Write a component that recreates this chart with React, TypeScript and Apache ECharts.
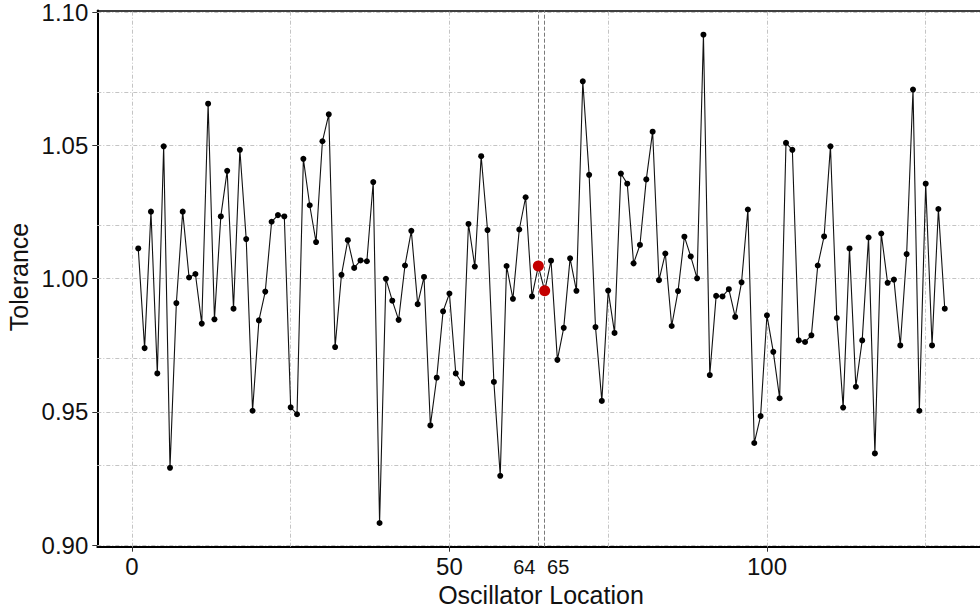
import React, { useEffect, useRef } from "react";
import * as echarts from "echarts";

// Tolerance per oscillator location (locations 1..128)
const tolerance = [
  1.0113, 0.9739, 1.0251, 0.9644, 1.0496, 0.929, 0.9908, 1.0251, 1.0004, 1.0017,
  0.9831, 1.0656, 0.9847, 1.0233, 1.0404, 0.9887, 1.0483, 1.0148, 0.9504, 0.9843,
  0.9951, 1.0213, 1.0238, 1.0233, 0.9517, 0.9491, 1.0449, 1.0275, 1.0137, 1.0515,
  1.0616, 0.9743, 1.0014, 1.0144, 1.004, 1.0068, 1.0065, 1.0362, 0.9083, 0.9999,
  0.9917, 0.9845, 1.0049, 1.0179, 0.9904, 1.0006, 0.9449, 0.9628, 0.9877, 0.9944,
  0.9644, 0.9607, 1.0205, 1.0045, 1.0459, 1.0182, 0.9612, 0.926, 1.0047, 0.9924,
  1.0184, 1.0305, 0.9933, 1.0047, 0.9954, 1.0067, 0.9695, 0.9815, 1.0076, 0.9954,
  1.074, 1.0389, 0.9818, 0.9541, 0.9955, 0.9796, 1.0394, 1.0356, 1.0057, 1.0126,
  1.0372, 1.0551, 0.9994, 1.0094, 0.9822, 0.9953, 1.0157, 1.0083, 1.0001, 1.0915,
  0.9638, 0.9935, 0.9933, 0.996, 0.9856, 0.9986, 1.0259, 0.9383, 0.9484, 0.9862,
  0.9725, 0.9551, 1.0509, 1.0483, 0.9768, 0.9762, 0.9787, 1.0049, 1.0158, 1.0496,
  0.9852, 0.9516, 1.0113, 0.9594, 0.9768, 1.0154, 0.9344, 1.0169, 0.9984, 0.9996,
  0.9749, 1.0092, 1.0709, 0.9504, 1.0356, 0.9749, 1.0261, 0.9887,
];
const locations = tolerance.map((_, i) => i + 1);
const highlightLocations = [64, 65];

const xTickValues = [0, 50, 100];
const xLabelValues = [0, 50, 64, 65, 100];
const xGridValues = [0, 25, 50, 75, 100, 125];
const yTickValues = [0.9, 0.95, 1.0, 1.05, 1.1];
const yGridValues = [0.9, 0.925, 0.95, 0.975, 1.0, 1.025, 1.05, 1.075, 1.1];

const xTitle = "Oscillator Location";
const yTitle = "Tolerance";

const FONT = '"Liberation Sans", Helvetica, Arial, sans-serif';

export default function App() {
  const ref = useRef<HTMLDivElement>(null);

  useEffect(() => {
    if (!ref.current) return;
    const chart = echarts.init(ref.current, undefined, { renderer: "svg" });

    const lineData = locations.map((x, i) => [x, tolerance[i]]);
    const redData = highlightLocations.map((x) => [x, tolerance[x - 1]]);

    const gridStyle = { color: "#c4c4c4", width: 1, type: [4, 2, 1, 2] as any };
    const hlStyle = { color: "#7a7a7a", width: 1, type: [4, 2] as any };

    const option: any = {
      animation: false,
      grid: { left: 97.3, right: 0, top: 7.3, bottom: 64.3, containLabel: false },
      xAxis: [
        {
          type: "value",
          min: -5.45,
          max: 133.55,
          splitLine: { show: false },
          axisLine: { show: true, onZero: false, lineStyle: { color: "#000", width: 2 } },
          axisTick: {
            show: true,
            customValues: xTickValues,
            length: 5,
            lineStyle: { color: "#333", width: 1 },
          },
          axisLabel: {
            customValues: xLabelValues,
            margin: 8,
            color: "#111",
            fontFamily: FONT,
            fontSize: 24,
            formatter: (v: number) =>
              v === 64 ? "{l|64}" : v === 65 ? "{r|65}" : "{n|" + v + "}",
            rich: {
              n: { fontSize: 24, fontFamily: FONT, color: "#111" },
              l: { fontSize: 20, fontFamily: FONT, color: "#111", padding: [2, 28, 0, 0] },
              r: { fontSize: 20, fontFamily: FONT, color: "#111", padding: [2, 0, 0, 27] },
            },
          },
        },
        {
          type: "value",
          position: "top",
          min: -5.45,
          max: 133.55,
          splitLine: { show: false },
          axisLine: { show: true, onZero: false, lineStyle: { color: "#000", width: 1.5 } },
          axisTick: { show: false },
          axisLabel: { show: false },
        },
      ],
      yAxis: {
        type: "value",
        min: 0.8994,
        max: 1.1006,
        splitLine: { show: false },
        axisLine: { show: true, onZero: false, lineStyle: { color: "#000", width: 2 } },
        axisTick: {
          show: true,
          customValues: yTickValues,
          length: 5,
          lineStyle: { color: "#333", width: 1 },
        },
        axisLabel: {
          customValues: yTickValues,
          margin: 9,
          color: "#111",
          fontFamily: FONT,
          fontSize: 24,
          formatter: (v: number) => v.toFixed(2),
        },
      },
      graphic: [
        {
          type: "text",
          x: 541,
          y: 595,
          style: {
            text: xTitle,
            fontFamily: FONT,
            fontSize: 25,
            fill: "#111",
            textAlign: "center",
            textVerticalAlign: "middle",
          },
        },
        {
          type: "text",
          x: 19,
          y: 277,
          rotation: Math.PI / 2,
          style: {
            text: yTitle,
            fontFamily: FONT,
            fontSize: 25,
            fill: "#111",
            textAlign: "center",
            textVerticalAlign: "middle",
          },
        },
      ],
      series: [
        {
          type: "line",
          data: [],
          z: 1,
          silent: true,
          markLine: {
            z: 1,
            silent: true,
            symbol: ["none", "none"],
            label: { show: false },
            emphasis: { disabled: true },
            lineStyle: gridStyle,
            data: [
              ...xGridValues.map((v) => ({ xAxis: v })),
              ...yGridValues.map((v) => ({ yAxis: v })),
              ...highlightLocations.map((v) => ({ xAxis: v, lineStyle: hlStyle })),
            ],
          },
        },
        {
          type: "line",
          data: lineData,
          z: 3,
          symbol: "circle",
          symbolSize: 6,
          showAllSymbol: true,
          itemStyle: { color: "#000", borderWidth: 0, opacity: 1 },
          lineStyle: { color: "#111", width: 1.1 },
          emphasis: { disabled: true },
          silent: true,
        },
        {
          type: "scatter",
          data: redData,
          z: 4,
          symbol: "circle",
          symbolSize: 11,
          itemStyle: { color: "#c40000", borderWidth: 0, opacity: 1 },
          emphasis: { disabled: true },
          silent: true,
        },
      ],
    };

    chart.setOption(option);
    return () => chart.dispose();
  }, []);

  return (
    <div
      ref={ref}
      style={{ position: "fixed", left: 0, top: 0, width: 980, height: 611, background: "#fff" }}
    />
  );
}
